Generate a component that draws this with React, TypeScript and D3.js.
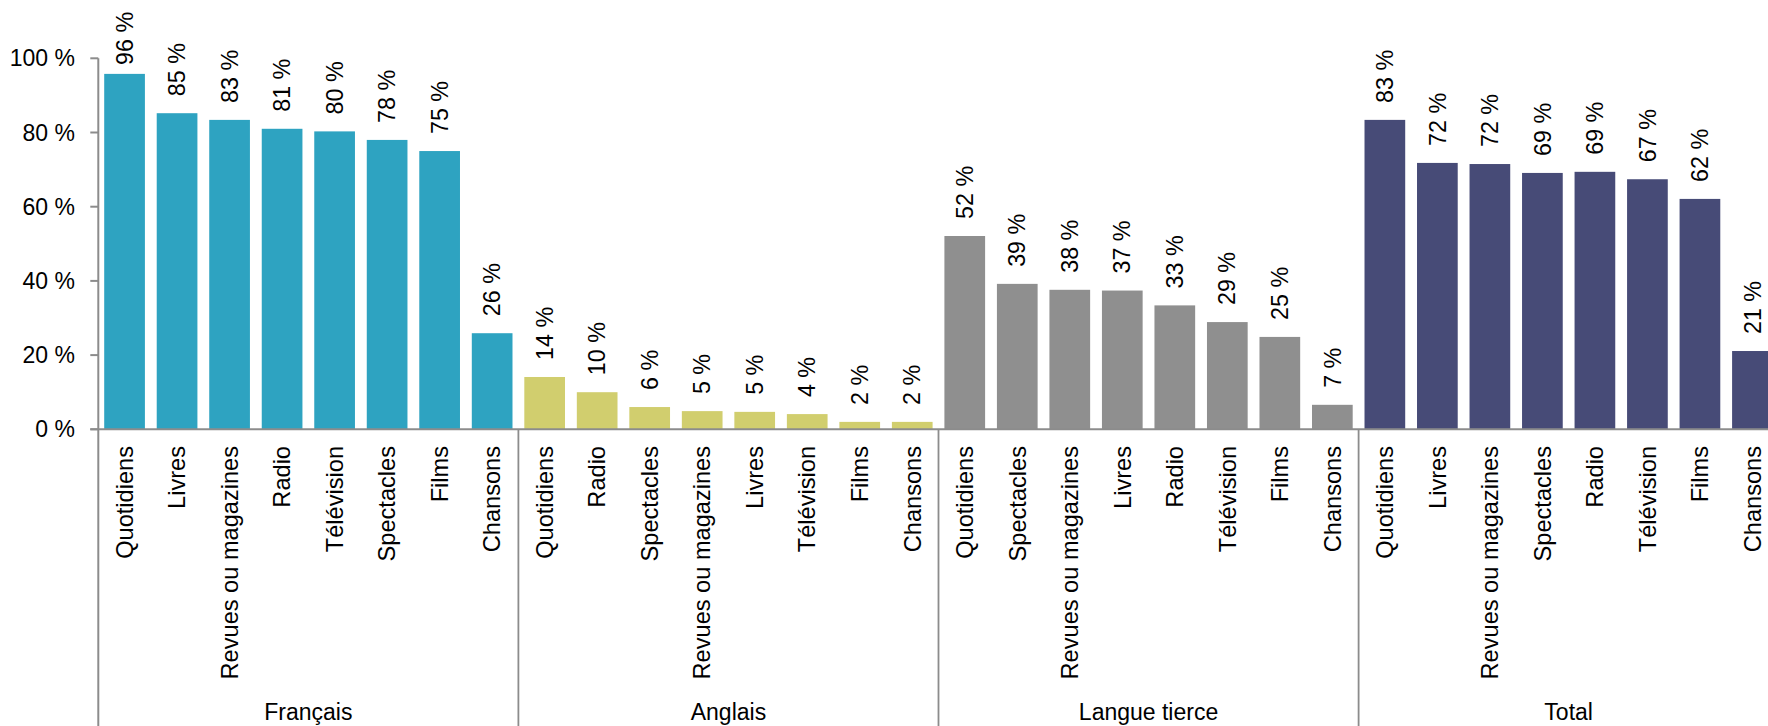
import React from "react";
import * as d3 from "d3";

const groups = ["Français", "Anglais", "Langue tierce", "Total"];

const francaisCategories = ["Quotidiens", "Livres", "Revues ou magazines", "Radio", "Télévision", "Spectacles", "Films", "Chansons"];
const francaisValues = [95.8, 85.2, 83.4, 81.0, 80.3, 78.0, 75.0, 25.9];

const anglaisCategories = ["Quotidiens", "Radio", "Spectacles", "Revues ou magazines", "Livres", "Télévision", "Films", "Chansons"];
const anglaisValues = [14.1, 10.0, 6.0, 4.9, 4.7, 4.1, 2.0, 2.0];

const tierceCategories = ["Quotidiens", "Spectacles", "Revues ou magazines", "Livres", "Radio", "Télévision", "Films", "Chansons"];
const tierceValues = [52.1, 39.2, 37.6, 37.4, 33.4, 28.9, 24.9, 6.6];

const totalCategories = ["Quotidiens", "Livres", "Revues ou magazines", "Spectacles", "Radio", "Télévision", "Films", "Chansons"];
const totalValues = [83.4, 71.8, 71.5, 69.1, 69.4, 67.4, 62.1, 21.1];

const yTicks = [0, 20, 40, 60, 80, 100];
const groupColors = ["#2EA3C1", "#D1CE6E", "#8F8F8F", "#474B77"];

const W = 1768;
const H = 726;
const FONT = "'Liberation Sans', Arial, Helvetica, sans-serif";

type Row = { key: number; group: number; cat: string; value: number };

export default function App() {
  const lists: [string[], number[]][] = [
    [francaisCategories, francaisValues],
    [anglaisCategories, anglaisValues],
    [tierceCategories, tierceValues],
    [totalCategories, totalValues],
  ];
  const rows: Row[] = [];
  lists.forEach(([cats, vals], g) => {
    cats.forEach((c, i) => rows.push({ key: rows.length, group: g, cat: c, value: vals[i] }));
  });

  const left = 98.3;
  const right = 1778.7;
  const x = d3
    .scaleBand<number>()
    .domain(rows.map((r) => r.key))
    .range([left, right])
    .paddingInner(0.225)
    .paddingOuter(0.1125);
  const step = x.step();
  const y = d3.scaleLinear().domain([0, 100]).range([429.3, 58.3]);
  const y0 = y(0);

  const groupStart = (g: number) => left + g * 8 * step;

  const axisColor = "#8C8C8C";

  return (
    <svg
      width={W}
      height={H}
      style={{ position: "absolute", left: 0, top: 0, background: "#fff" }}
      fontFamily={FONT}
    >
      {rows.map((r) => (
        <rect
          key={"b" + r.key}
          x={x(r.key)}
          y={y(r.value)}
          width={x.bandwidth()}
          height={y0 - y(r.value)}
          fill={groupColors[r.group]}
        />
      ))}

      {rows.map((r) => {
        const cx = (x(r.key) as number) + x.bandwidth() / 2;
        const ty = Math.max(y(r.value) - 17, 65);
        return (
          <text
            key={"v" + r.key}
            transform={`translate(${cx},${ty}) rotate(-90)`}
            dy="0.35em"
            fontSize={23.3}
            fill="#000"
            textAnchor="start"
          >
            {Math.round(r.value) + " %"}
          </text>
        );
      })}

      <line x1={left} x2={left} y1={y(100)} y2={H} stroke={axisColor} strokeWidth={2} />
      {yTicks.map((t) => (
        <g key={"t" + t}>
          <line x1={left - 8} x2={left} y1={y(t)} y2={y(t)} stroke={axisColor} strokeWidth={2} />
          <text x={75} y={y(t)} dy="0.35em" textAnchor="end" fontSize={23} fill="#000">
            {t + " %"}
          </text>
        </g>
      ))}

      <line x1={left - 8} x2={W} y1={y0} y2={y0} stroke={axisColor} strokeWidth={2} />

      {groups.map((g, i) =>
        i === 0 ? null : (
          <line
            key={"s" + g}
            x1={groupStart(i)}
            x2={groupStart(i)}
            y1={y0}
            y2={H}
            stroke={axisColor}
            strokeWidth={1.8}
          />
        )
      )}

      {rows.map((r) => {
        const cx = (x(r.key) as number) + x.bandwidth() / 2;
        return (
          <text
            key={"c" + r.key}
            transform={`translate(${cx},${446}) rotate(-90)`}
            dy="0.35em"
            textAnchor="end"
            fontSize={23.6}
            fill="#000"
          >
            {r.cat}
          </text>
        );
      })}

      {groups.map((g, i) => (
        <text
          key={"g" + g}
          x={groupStart(i) + 4 * step}
          y={720}
          textAnchor="middle"
          fontSize={23}
          fill="#000"
        >
          {g}
        </text>
      ))}
    </svg>
  );
}
